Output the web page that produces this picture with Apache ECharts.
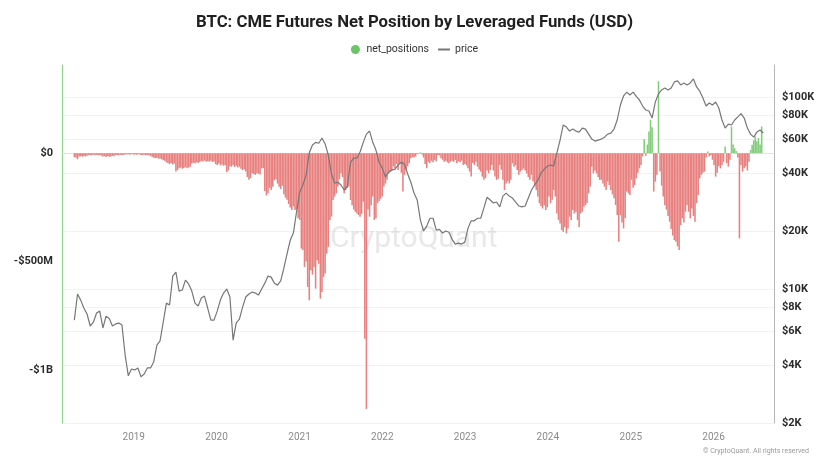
<!DOCTYPE html>
<html><head><meta charset="utf-8">
<script src="https://cdn.jsdelivr.net/npm/echarts@6/dist/echarts.min.js"></script>
<style>html,body{margin:0;padding:0;background:#fff}#c{width:829px;height:466px}</style>
</head><body><div id="c"></div>
<script>
// ---- data ----
const yearTicks = [2019, 2020, 2021, 2022, 2023, 2024, 2025, 2026];
const leftTicks = [0, -500, -1000];            // millions USD
const rightTicks = [2000, 4000, 6000, 8000, 10000, 20000, 40000, 60000, 80000, 100000];
const firstWeek = '2018-04-14';                 // first weekly report in the chart

// weekly net position of leveraged funds, millions USD
const netPositions = [
-18,-20,-28,
-15,-14,-16,-13,-15,-12,
-9,-8,-10,-7,-9,-8,-10,-9,-11,
-15,-14,-17,-13,-16,-15,-12,-14,
-9,-8,-10,-7,-9,-8,-6,
-6,-5,-7,-4,-6,-5,-7,-6,-5,
-8,-9,-7,-10,-9,-11,-12,
-18,-20,-23,-21,-25,-24,-28,
-32,-35,
-42,-46,-50,-45,-52,-48,
-85,-78,
-70,-66,-72,-68,-64,-70,-66,-62,
-48,-44,-46,-42,-45,-40,
-36,-38,-34,-40,-37,-39,-35,-41,-38,
-50,-54,-48,-56,-52,-58,-55,
-88,-80,
-60,-62,-55,-64,-58,-66,-62,
-72,-78,-75,-85,
-110,-123,-115,
-93,-96,-100,-92,-95,-98,
-70,-69,
-175,-195,-185,
-160,-170,-155,
-125,-120,
-140,-155,-165,-150,
-190,-205,-215,
-235,-250,-262,-245,
-262,-258,
-300,-308,
-440,-447,
-525,
-500,-617,
-679,
-540,-560,-525,
-625,
-494,-510,
-671,-640,
-571,-555,
-463,-432,
-308,-293,
-216,-200,-185,
-154,-120,-93,-110,
-185,-170,
-160,-154,
-216,-240,-260,-270,-278,
-285,-293,-280,
-224,
-856,
-1180,
-260,-293,-240,-200,
-308,-300,
-231,-220,-210,-200,
-154,-140,-123,
-93,-85,-77,
-60,-70,-50,-77,-46,
-90,-177,-100,
-77,-60,-46,
-23,-18,-20,-15,
-5,-3,4,-6,
-20,-50,-69,
-40,-46,-35,-42,-31,-38,
-8,-10,
-23,-30,-39,-35,
-42,-46,-39,
-35,-40,-31,-46,-38,-42,-34,
-54,-50,-56,
-69,-85,-108,
-45,-54,-39,
-62,-75,-85,
-108,-123,-115,
-80,-93,-77,
-54,-80,-108,
-123,-118,
-54,-77,
-123,-170,-140,
-130,-139,-123,
-46,-62,-55,
-77,-100,-85,
-77,-70,-80,
-93,-110,-123,-100,
-130,-154,
-170,-200,
-231,-245,-255,-240,
-262,-250,
-200,-231,-215,
-170,-200,
-278,-308,
-324,-355,
-363,-340,
-370,-347,
-293,-308,
-262,-278,-270,
-308,-340,
-278,-270,
-247,-240,-230,
-185,-154,
-62,-93,-80,
-93,-110,-123,
-123,-140,-154,
-170,-131,
-147,-170,-190,-208,
-239,-285,
-409,
-285,-320,-347,-300,
-177,-185,-193,
-123,-160,-147,
-116,-90,-70,-54,
-15,66,
-12,
40,100,154,
120,-177,
-131,-100,
332,
-85,-150,
-200,-239,-260,
-290,-316,-350,
-380,-401,-409,
-430,-447,-332,
-300,-320,-270,
-239,-270,-301,
-255,-290,-316,
-230,-193,
-116,-100,-90,-85,
-20,8,-15,
-10,-30,
-54,-108,-90,
-60,-70,-54,
-40,31,-46,
-62,-30,
123,40,23,
10,-20,
-393,
-54,-85,-70,-60,-80,-40,
15,
39,60,77,55,
70,40,
123
];

// BTC price, sampled every two weeks from the first week, USD
const prices = [
6870,9390,8730,7940,7390,6400,6700,7480,7650,6250,
7200,7000,6400,6560,6630,6470,4520,3520,3820,3780,
3870,3480,3600,3870,3870,4160,5090,5350,6700,8420,
8230,11650,12200,9730,9850,11100,10600,9730,8420,8130,
8950,9160,7940,6870,6870,7650,8730,9500,9970,9060,
5400,6650,6950,8030,9060,9390,9620,9500,9270,9970,
10700,11650,11500,10700,10450,11000,12800,15200,17900,19500,
25200,31900,34700,39100,51000,56100,57900,57300,61000,56800,
49700,39600,35500,35900,34700,32700,34200,45600,47900,47900,
51600,57900,63900,66300,57900,52800,45600,42500,38200,40500,
41500,42000,44100,45600,44600,39600,35900,31500,29000,22800,
20000,21200,23300,23300,20200,20400,19500,20000,19700,18100,
17100,17300,17100,17500,20700,22600,22600,23300,23300,26300,
30000,29000,28000,28300,26700,30400,31500,30400,29700,28300,
27000,26700,27000,29700,32700,34700,36800,40000,42000,43500,
44100,43600,51000,59500,71300,69600,66300,67900,66300,65500,
68700,67900,63900,60200,58800,59500,60200,61600,63900,64700,
67900,75700,90600,101000,105800,102200,105800,100400,96200,89500,
85300,84300,77500,94000,103500,108500,111100,108500,111100,119500,
121000,115200,118000,115200,118000,123800,112500,107000,98600,89500,
92800,90600,94000,87400,75700,68700,72100,71300,75700,78600,
81700,77500,68700,63900,61600,65500,67100,64800
];

// ---- build ----
const DAY = 86400000;
const t0 = Date.parse(firstWeek + 'T00:00:00Z');
const barData = netPositions.map((v, i) => [t0 + i * 7 * DAY, v]);
const priceData = prices.map((v, i) => [t0 + i * 14 * DAY, v]);
const FONT = 'Roboto, "Liberation Sans", Arial, sans-serif';

const chart = echarts.init(document.getElementById('c'), null, {renderer: 'canvas'});
chart.setOption({
  animation: false,
  backgroundColor: '#ffffff',
  textStyle: {fontFamily: FONT},
  title: {
    text: 'BTC: CME Futures Net Position by Leveraged Funds (USD)',
    left: 'center', top: 9,
    textStyle: {fontSize: 16.8, fontWeight: 'bold', color: '#1f1f1f', fontFamily: FONT}
  },
  legend: {
    top: 39, left: 'center', itemGap: 8, itemWidth: 12, itemHeight: 9,
    textStyle: {fontSize: 10.5, color: '#333', fontFamily: FONT},
    data: [
      {name: 'net_positions', icon: 'circle', itemStyle: {color: '#6cc36a'}},
      {name: 'price', itemStyle: {opacity: 0}}
    ]
  },
  grid: {left: 62, right: 55, top: 65, bottom: 43, containLabel: false},
  xAxis: {
    type: 'time',
    min: Date.UTC(2018, 1, 22),
    max: Date.UTC(2026, 8, 21),
    minInterval: 365 * DAY,
    axisLine: {show: true, lineStyle: {color: '#e3e3e3', width: 1}},
    axisTick: {show: true, length: 3, lineStyle: {color: '#e3e3e3'}},
    axisLabel: {
      color: '#8a8a8a', fontSize: 10, margin: 9, showMinLabel: false, showMaxLabel: false,
      formatter: v => {
        const d = new Date(v);
        const y = d.getUTCFullYear();
        return yearTicks.indexOf(y) >= 0 && d.getUTCMonth() === 0 ? String(y) : '';
      }
    },
    splitLine: {show: false}
  },
  yAxis: [
    {
      type: 'value', position: 'left',
      min: -1245, max: 407,
      axisLine: {show: true, lineStyle: {color: '#93d48b', width: 1.2}},
      axisTick: {show: false, customValues: leftTicks},
      axisLabel: {
        customValues: leftTicks, color: '#2b2b2b', fontSize: 11, fontWeight: 'bold', margin: 9,
        formatter: v => v === 0 ? '$0' : (Math.abs(v) >= 1000 ? '-$' + (Math.abs(v) / 1000) + 'B' : '-$' + Math.abs(v) + 'M')
      },
      splitLine: {show: false}
    },
    {
      type: 'log', logBase: 10, position: 'right',
      min: 2000, max: 146400,
      axisLine: {show: true, lineStyle: {color: '#b5b5b5', width: 1}},
      axisTick: {show: false, customValues: rightTicks},
      axisLabel: {
        customValues: rightTicks, color: '#2b2b2b', fontSize: 11, fontWeight: 'bold', margin: 8,
        formatter: v => '$' + Math.round(v / 1000) + 'K'
      },
      splitLine: {show: true, lineStyle: {color: '#f2f2f2', width: 1}}
    }
  ],
  series: [
    {
      name: 'net_positions', type: 'bar', yAxisIndex: 0,
      data: barData, barWidth: 1.55, z: 2,
      itemStyle: {color: p => (p.value[1] >= 0 ? '#82cc7b' : '#e8807f')}
    },
    {
      name: 'price', type: 'line', yAxisIndex: 1,
      data: priceData, symbol: 'none', showSymbol: false, z: 3,
      lineStyle: {color: '#777777', width: 1.2},
      itemStyle: {color: '#777777'}
    }
  ],
  graphic: [
    {
      type: 'text', left: 330, top: 224, silent: true, z: 1,
      style: {text: 'CryptoQuant', fontSize: 30, fontFamily: FONT, fill: 'rgba(190,190,190,0.35)'}
    },
    {
      type: 'text', left: 703, top: 448, silent: true,
      style: {text: '© CryptoQuant. All rights reserved', fontSize: 7, fontFamily: FONT, fill: '#9a9a9a'}
    }
  ]
});
</script>
</body></html>
